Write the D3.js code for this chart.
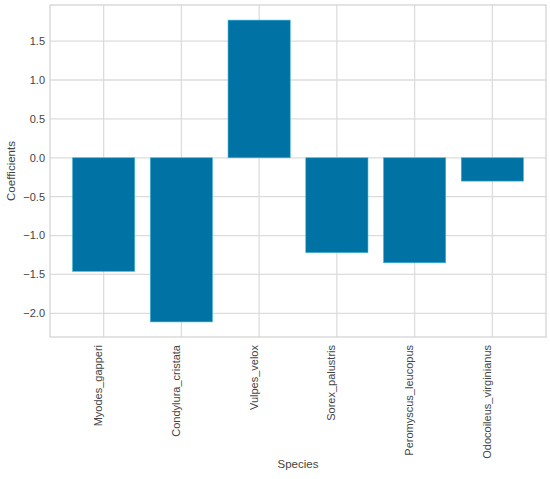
<!DOCTYPE html>
<html>
<head>
<meta charset="utf-8">
<script src="https://d3js.org/d3.v7.min.js"></script>
<style>
    body { margin: 0; background: #fff; }
    text { font-family: "Liberation Sans", Arial, sans-serif; fill: #444; }
</style>
</head>
<body>
<div id="chart"></div>
<script>
// Chart data
const species = ["Myodes_gapperi", "Condylura_cristata", "Vulpes_velox",
    "Sorex_palustris", "Peromyscus_leucopus", "Odocoileus_virginianus"];
const coefficients = [-1.46, -2.11, 1.77, -1.22, -1.35, -0.30];
const yTicks = [-2.0, -1.5, -1.0, -0.5, 0.0, 0.5, 1.0, 1.5];

// Sizing
const W = 550, H = 479;
const margin = { top: 5, right: 4, bottom: 142, left: 50 };
const width = W - margin.left - margin.right;
const height = H - margin.top - margin.bottom;

const svg = d3.select("#chart").append("svg")
    .attr("width", W)
    .attr("height", H);

const plot = svg.append("g")
    .attr("transform", `translate(${margin.left},${margin.top})`);

// Scales (matplotlib-like 5% margins)
const x = d3.scaleLinear().domain([-0.69, 5.69]).range([0, width]);
const y = d3.scaleLinear().domain([-2.304, 1.964]).range([height, 0]);
const barW = x(0.8) - x(0);

// Grid
plot.selectAll(".gy")
    .data(yTicks)
    .enter().append("line")
    .attr("x1", 0).attr("x2", width)
    .attr("y1", d => y(d)).attr("y2", d => y(d))
    .attr("stroke", "#dcdcdc").attr("stroke-width", 1.3);

plot.selectAll(".gx")
    .data(species)
    .enter().append("line")
    .attr("x1", (d, i) => x(i)).attr("x2", (d, i) => x(i))
    .attr("y1", 0).attr("y2", height)
    .attr("stroke", "#dcdcdc").attr("stroke-width", 1.3);

// Bars
plot.selectAll("rect.bar")
    .data(coefficients)
    .enter().append("rect")
    .attr("class", "bar")
    .attr("x", (d, i) => x(i) - barW / 2)
    .attr("width", barW)
    .attr("y", d => y(Math.max(0, d)))
    .attr("height", d => Math.abs(y(d) - y(0)))
    .attr("fill", "#0072a3")
    .attr("stroke", "#3fb6d6")
    .attr("stroke-width", 0.6);

// Frame
plot.append("rect")
    .attr("width", width).attr("height", height)
    .attr("fill", "none")
    .attr("stroke", "#d4d4d4").attr("stroke-width", 1.3);

// Y tick labels
plot.selectAll(".yl")
    .data(yTicks)
    .enter().append("text")
    .attr("x", -5)
    .attr("y", d => y(d))
    .attr("dy", "0.35em")
    .attr("text-anchor", "end")
    .attr("font-size", 11)
    .text(d => d3.format(".1f")(d).replace("-", "\u2212"));

// X tick labels (rotated)
plot.selectAll(".xl")
    .data(species)
    .enter().append("text")
    .attr("transform", (d, i) => `translate(${x(i)},${height + 8}) rotate(-90)`)
    .attr("dy", -1.5)
    .attr("text-anchor", "end")
    .attr("font-size", 11)
    .text(d => d);

// Axis titles
svg.append("text")
    .attr("x", margin.left + width / 2)
    .attr("y", 468)
    .attr("text-anchor", "middle")
    .attr("font-size", 11.5)
    .text("Species");

svg.append("text")
    .attr("transform", `translate(15,${margin.top + height / 2}) rotate(-90)`)
    .attr("text-anchor", "middle")
    .attr("font-size", 11.5)
    .text("Coefficients");
</script>
</body>
</html>
